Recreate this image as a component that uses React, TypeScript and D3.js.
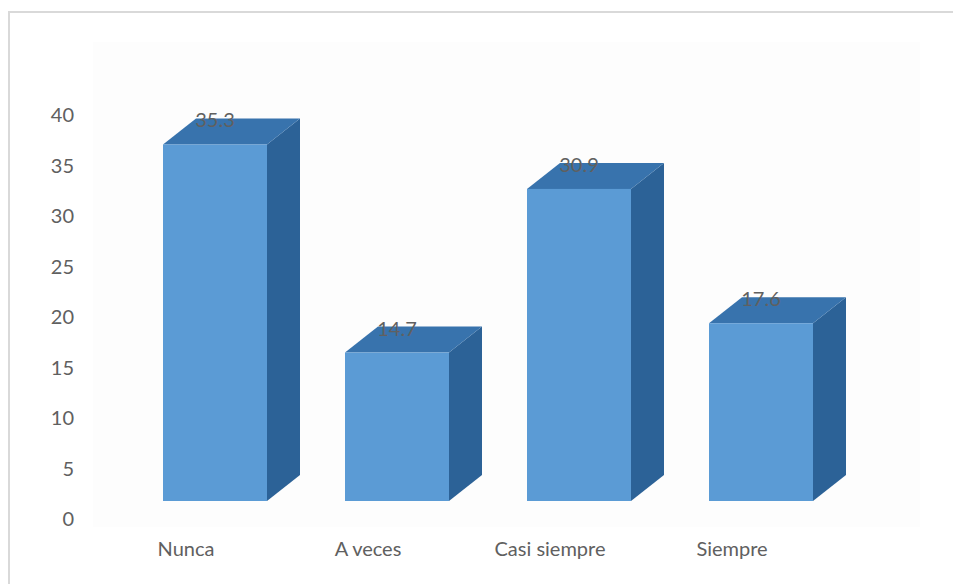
import { useMemo } from 'react';
import * as d3 from 'd3';

const categories = ['Nunca', 'A veces', 'Casi siempre', 'Siempre'];
const values = [35.3, 14.7, 30.9, 17.6];
const valueLabels = ['35.3', '14.7', '30.9', '17.6'];
const yTicks = [0, 5, 10, 15, 20, 25, 30, 35, 40];

export default function App(): React.ReactNode {
  const width = 953;
  const height = 584;
  const floorLift = 20;
  const depth = { dx: 33, dy: -26 };
  const barW = 104;
  const barOffset = 68;

  const { x, y } = useMemo(() => {
    const x = d3.scaleBand<string>().domain(categories).range([95, 823]).padding(0);
    const y = d3.scaleLinear().domain([0, 40]).range([521, 117]);
    return { x, y };
  }, []);

  const font = 'Lato, "Open Sans", sans-serif';
  const ink = '#606060';

  return (
    <svg
      width={width}
      height={height}
      style={{ position: 'fixed', left: 0, top: 0, background: '#fff' }}
    >
      <rect x={9} y={12} width={960} height={600} fill="#fff" stroke="#d9d9d9" strokeWidth={2} />
      <rect x={93} y={42} width={827} height={485} fill="#fdfdfd" />

      {yTicks.map((t) => (
        <text
          key={t}
          x={74}
          y={y(t)}
          textAnchor="end"
          dominantBaseline="middle"
          fill={ink}
          fontSize={20}
          fontFamily={font}
        >
          {t}
        </text>
      ))}

      {categories.map((c, i) => {
        const x0 = (x(c) ?? 0) + barOffset;
        const x1 = x0 + barW;
        const yb = y(0) - floorLift;
        const yt = y(values[i]) - floorLift;
        const { dx, dy } = depth;
        const top = `M${x0},${yt} L${x0 + dx},${yt + dy} L${x1 + dx},${yt + dy} L${x1},${yt} Z`;
        const side = `M${x1},${yt} L${x1 + dx},${yt + dy} L${x1 + dx},${yb + dy} L${x1},${yb} Z`;
        return (
          <g key={c}>
            <path d={side} fill="#2c6297" />
            <path d={top} fill="#3873ad" />
            <rect x={x0} y={yt} width={barW} height={yb - yt} fill="#5b9bd5" />
            <text
              x={x0 + barW / 2}
              y={yt - 17}
              textAnchor="middle"
              fill={ink}
              fontSize={20}
              fontFamily={font}
            >
              {valueLabels[i]}
            </text>
          </g>
        );
      })}

      {categories.map((c) => (
        <text
          key={c}
          x={(x(c) ?? 0) + x.bandwidth() / 2}
          y={551}
          textAnchor="middle"
          dominantBaseline="middle"
          fill={ink}
          fontSize={20}
          fontFamily={font}
        >
          {c}
        </text>
      ))}
    </svg>
  );
}
